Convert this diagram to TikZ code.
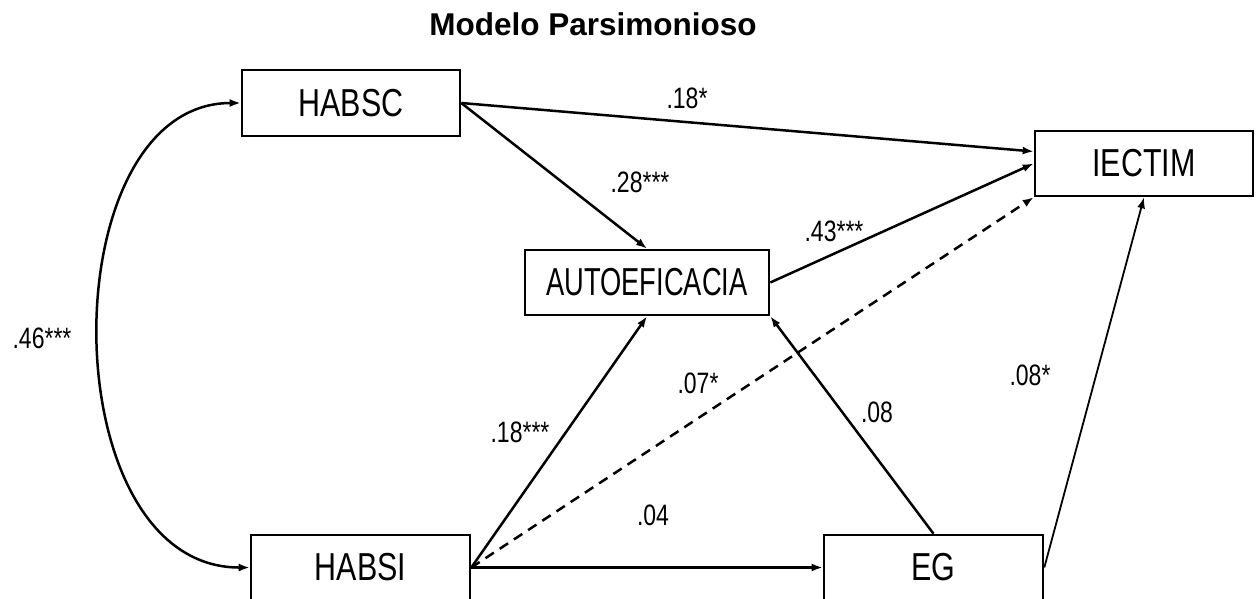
\documentclass[tikz,border=0pt]{standalone}
\usepackage{fontspec}
\setmainfont{Liberation Sans}
\newfontfamily\narrowfont[FakeStretch=0.78]{Liberation Sans}
\newfontfamily\narrowerfont[FakeStretch=0.70]{Liberation Sans}
\usetikzlibrary{arrows.meta}
\begin{document}
\begin{tikzpicture}[x=1pt,y=-1pt,
  varbox/.style={draw,line width=2.6pt,inner sep=0pt,font=\narrowfont\fontsize{39}{41}\selectfont},
  coef/.style={inner sep=0pt,font=\narrowfont\fontsize{29.5}{31}\selectfont},
  path/.style={line width=2.5pt,-{Latex[length=11pt,width=8pt]}},
  both/.style={line width=2.5pt,{Latex[length=11pt,width=8pt]}-{Latex[length=11pt,width=8pt]}}]
\clip (0,0) rectangle (1257,599);
\fill[white] (0,0) rectangle (1257,599);
\node[inner sep=0pt,font=\bfseries\fontsize{31.5}{33}\selectfont] (title) at (593,24) {Modelo Parsimonioso};
\node[varbox,minimum width=218pt,minimum height=66pt] (habsc) at (351,103) {HABSC};
\node[varbox,minimum width=218pt,minimum height=65pt] (iectim) at (1144,163.5) {IECTIM};
\node[varbox,minimum width=244pt,minimum height=65pt,font=\narrowerfont\fontsize{39}{41}\selectfont] (autoef) at (647,282.5) {AUTOEFICACIA};
\node[varbox,minimum width=219pt,minimum height=65pt] (habsi) at (360.5,567.5) {HABSI};
\node[varbox,minimum width=219pt,minimum height=65pt] (eg) at (933.5,567.5) {EG};
% paths
\draw[path] (habsc.east) -- ([yshift=12pt]iectim.west);
\draw[path] (autoef.east) -- (iectim.west);
\draw[path] (habsc.east) -- (autoef.north);
\draw[path] (habsi.east) -- (autoef.south);
\draw[path] (eg.north) -- (autoef.south east);
\draw[path] (habsi.east) -- (eg.west);
\draw[path,dash pattern=on 10pt off 7pt] (habsi.east) -- (iectim.south west);
\draw[path,line width=1.8pt] (eg.east) -- (iectim.south);
\draw[both] (habsc.west) .. controls (50,103) and (50,568) .. (habsi.west);
% coefficients
\node[coef] (c1) at (687,98) {.18*};
\node[coef] (c2) at (640,182) {.28***};
\node[coef] (c3) at (834,231) {.43***};
\node[coef] (c4) at (698,383) {.07*};
\node[coef] (c5) at (877,412) {.08};
\node[coef] (c6) at (1030,375) {.08*};
\node[coef] (c7) at (520,432) {.18***};
\node[coef] (c8) at (653,515) {.04};
\node[coef] (c9) at (42,338) {.46***};
\end{tikzpicture}
\end{document}
